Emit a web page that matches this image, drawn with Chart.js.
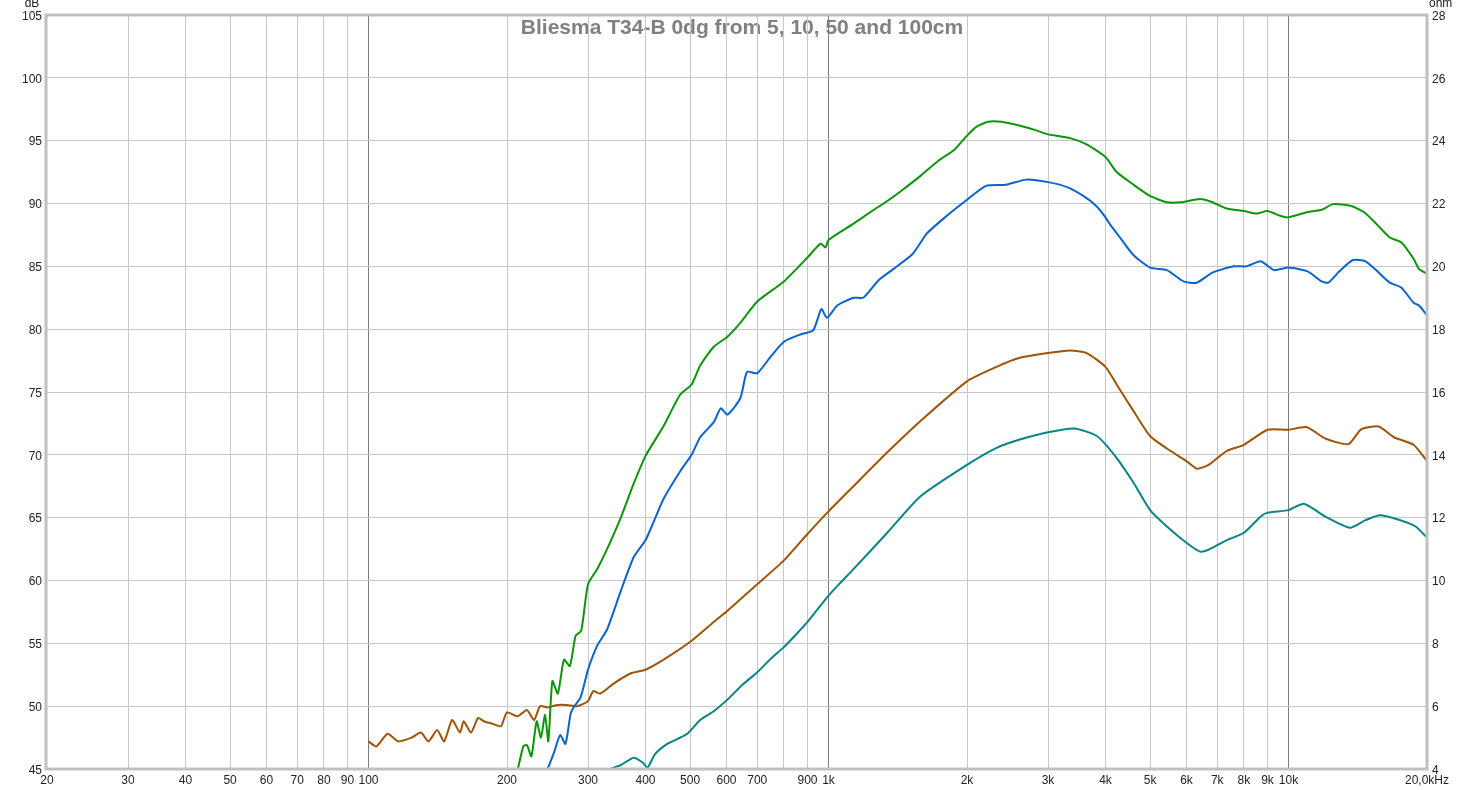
<!DOCTYPE html>
<html>
<head>
<meta charset="utf-8">
<script src="https://cdn.jsdelivr.net/npm/chart.js@4.4.0/dist/chart.umd.min.js"></script>
<style>
  body { margin: 0; background: #fff; }
  #wrap { width: 1484px; height: 790px; }
</style>
</head>
<body>
<div id="wrap"><canvas id="fr" width="1484" height="790"></canvas></div>
<script>
// x axis ticks (Hz) and their labels
const xTicks = [20, 30, 40, 50, 60, 70, 80, 90, 100, 200, 300, 400, 500, 600, 700, 800, 900,
  1000, 2000, 3000, 4000, 5000, 6000, 7000, 8000, 9000, 10000, 20000];
const xTickLabels = ["20", "30", "40", "50", "60", "70", "80", "90", "100", "200", "300", "400", "500", "600", "700", "", "900",
  "1k", "2k", "3k", "4k", "5k", "6k", "7k", "8k", "9k", "10k", "20,0kHz"];
const darkGrid = [100, 1000, 10000];

// 5cm (green)
const greenFreq = [205,211,217,221,226,232,237,242,246,251,258,266,274,282,290,300,314,330,353,377,
  400,438,476,504,526,563,603,643,700,800,900,961,985,1000,1133,1243,1342,1450,1585,1733,
  1880,2000,2095,2222,2375,2595,2840,3000,3350,3640,4000,4230,4600,5000,5440,5830,6420,6830,7330,8000,
  8530,9000,9620,10000,10960,11800,12500,13700,14600,15500,16600,17600,18700,19200,20000];
const greenDb = [44,45,46.8,46.9,46.0,48.8,47.5,49.3,47.2,52.0,51.0,53.7,53.2,55.6,56.0,59.7,60.9,62.5,64.95,67.7,
  69.9,72.3,74.8,75.6,77.1,78.6,79.4,80.5,82.2,83.8,85.7,86.8,86.5,87.1,88.4,89.4,90.2,91.1,92.2,93.4,
  94.3,95.4,96.1,96.5,96.5,96.2,95.8,95.5,95.2,94.7,93.7,92.5,91.5,90.6,90.1,90.1,90.35,90.1,89.6,89.4,
  89.2,89.4,89.0,88.9,89.3,89.5,89.95,89.8,89.3,88.4,87.3,86.9,85.6,84.8,84.4];

// 10cm (blue)
const blueFreq = [240,245,253,261,268,275,279,289,300,314,330,353,377,400,416,438,476,504,526,563,
  583,603,643,665,700,748,800,872,926,965,992,1046,1133,1190,1285,1385,1525,1635,1805,2000,
  2200,2430,2690,3000,3300,3580,3820,4000,4100,4300,4600,5000,5440,5910,6320,6830,7600,8100,8700,9300,
  10000,11000,11800,12200,12900,13800,14700,15500,16600,17600,18700,19200,20000];
const blueDb = [44.5,45.0,46.3,47.7,47.0,49.4,49.9,50.7,52.9,54.8,56.1,59.1,61.85,63.2,64.6,66.5,68.7,70.0,71.4,72.6,
  73.7,73.2,74.5,76.6,76.5,77.8,79.0,79.6,79.9,81.6,80.9,81.9,82.5,82.5,83.9,84.8,86.0,87.6,89.0,90.3,
  91.4,91.5,91.9,91.7,91.3,90.6,89.8,88.9,88.3,87.3,85.9,84.9,84.7,83.8,83.7,84.5,85.0,85.0,85.4,84.7,
  84.9,84.6,83.8,83.7,84.6,85.5,85.4,84.7,83.7,83.3,82.1,81.9,81.1];

// 50cm (brown)
const brownFreq = [100,104,110,116,124,130,135,141,146,152,158,161,167,173,178,186,194,200,211,221,
  229,236,245,258,270,284,300,308,319,341,371,400,438,504,563,603,700,800,900,1000,
  1133,1342,1585,2000,2319,2595,3000,3350,3640,4000,4230,4600,5000,5440,6000,6320,6700,7330,8000,9000,
  10000,10960,12020,13500,14400,15700,16950,18700,20000];
const brownDb = [47.2,46.8,47.8,47.2,47.5,47.9,47.2,48.1,47.2,48.9,47.9,48.8,47.9,49.05,48.8,48.6,48.4,49.5,49.2,49.7,
  48.9,50.0,49.9,50.1,50.1,50.0,50.4,51.2,51.0,51.8,52.6,52.9,53.7,55.2,56.7,57.6,59.7,61.6,63.7,65.5,
  67.5,70.2,72.7,75.85,77.0,77.7,78.1,78.3,78.1,77.0,75.6,73.5,71.5,70.5,69.5,68.9,69.2,70.3,70.8,72.0,
  72.0,72.2,71.3,70.85,72.05,72.25,71.4,70.8,69.5];

// 100cm (teal)
const tealFreq = [330,336,353,377,395,404,420,446,470,493,526,563,602,650,700,750,800,850,900,1000,
  1060,1133,1342,1585,2000,2319,2595,3000,3420,3830,4200,4600,5000,5440,6000,6420,6700,7330,8000,8700,
  9000,10000,10800,12000,13600,14700,15800,17500,18900,20000];
const tealDb = [44.5,45.0,45.3,45.9,45.5,45.1,46.2,47.0,47.4,47.8,48.9,49.6,50.5,51.7,52.7,53.8,54.7,55.7,56.7,58.8,
  59.8,60.9,63.8,66.7,69.2,70.55,71.2,71.8,72.1,71.5,69.9,67.8,65.6,64.3,63.0,62.3,62.45,63.2,63.8,65.1,
  65.4,65.6,66.1,65.1,64.2,64.8,65.2,64.8,64.3,63.4];

function pts(f, v) {
  return f.map((x, i) => ({ x: x, y: v[i] }));
}

const font = { family: "'Liberation Sans', Arial, sans-serif", size: 12 };

// title, axis units and the frame round the plot
const decor = {
  id: "decor",
  beforeDraw(chart) {
    const c = chart.ctx;
    c.save();
    c.fillStyle = "#fff";
    c.fillRect(0, 0, chart.width, chart.height);
    c.font = "bold 21px 'Liberation Sans', Arial, sans-serif";
    c.fillStyle = "#808080";
    c.textAlign = "center";
    c.textBaseline = "alphabetic";
    c.fillText("Bliesma T34-B 0dg from 5, 10, 50 and 100cm", 742, 34);
    c.restore();
  },
  afterDatasetsDraw(chart) {
    const c = chart.ctx, a = chart.chartArea;
    c.save();
    c.strokeStyle = "#c0c0c0";
    c.lineWidth = 3;
    c.strokeRect(a.left - 1, a.top, a.right - a.left + 1, a.bottom - a.top);
    c.font = "12px 'Liberation Sans', Arial, sans-serif";
    c.fillStyle = "#222";
    c.textBaseline = "middle";
    c.textAlign = "center";
    c.fillText("dB", 32, 4);
    c.textAlign = "left";
    c.fillText("ohm", 1429, 4);
    c.restore();
  }
};

new Chart(document.getElementById("fr"), {
  type: "line",
  data: {
    datasets: [
      { label: "5cm", data: pts(greenFreq, greenDb), borderColor: "#0c960c" },
      { label: "10cm", data: pts(blueFreq, blueDb), borderColor: "#0a64cc" },
      { label: "50cm", data: pts(brownFreq, brownDb), borderColor: "#a05406" },
      { label: "100cm", data: pts(tealFreq, tealDb), borderColor: "#0a8484" }
    ]
  },
  options: {
    responsive: false,
    animation: false,
    layout: { padding: { top: 15, left: 0, right: 0, bottom: 0 } },
    elements: {
      line: { borderWidth: 2, tension: 0.2, fill: false },
      point: { radius: 0 }
    },
    plugins: { legend: { display: false }, tooltip: { enabled: false } },
    scales: {
      x: {
        type: "logarithmic",
        position: "bottom",
        min: 20,
        max: 20000,
        afterBuildTicks: (s) => { s.ticks = xTicks.map(v => ({ value: v })); },
        afterFit: (s) => { s.height = 21; },
        ticks: {
          autoSkip: false,
          maxRotation: 0,
          padding: 4,
          color: "#222",
          font: font,
          callback: (v) => {
            const i = xTicks.indexOf(v);
            return i >= 0 ? xTickLabels[i] : "";
          }
        },
        grid: {
          drawTicks: false,
          lineWidth: 1,
          color: (ctx) => {
            const v = ctx.tick ? ctx.tick.value : 0;
            if (v === 20 || v === 20000) return "rgba(0,0,0,0)";
            return darkGrid.includes(v) ? "#7c7c7c" : "#c8c8c8";
          }
        },
        border: { display: false }
      },
      y: {
        position: "left",
        min: 45,
        max: 105,
        afterFit: (s) => { s.width = 47; },
        ticks: { stepSize: 5, padding: 5, labelOffset: 1.5, color: "#222", font: font },
        grid: { drawTicks: false, color: "#c8c8c8" },
        border: { display: false }
      },
      y2: {
        position: "right",
        min: 4,
        max: 28,
        afterFit: (s) => { s.width = 57; },
        ticks: { stepSize: 2, padding: 5, labelOffset: 1.5, color: "#222", font: font },
        grid: { drawOnChartArea: false, drawTicks: false },
        border: { display: false }
      }
    }
  },
  plugins: [decor]
});
</script>
</body>
</html>
